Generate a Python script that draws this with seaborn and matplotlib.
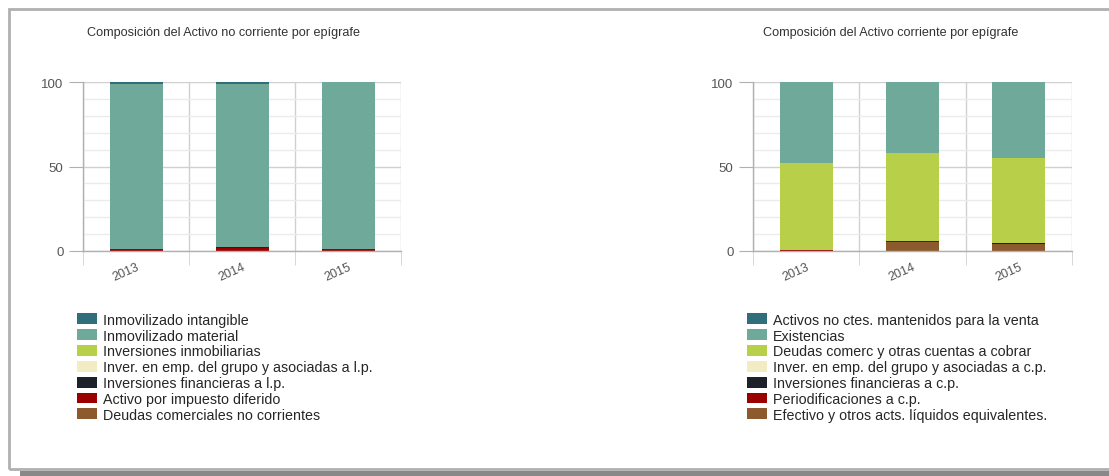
import matplotlib
matplotlib.use("Agg")
import matplotlib.pyplot as plt
import matplotlib.patches as mpatches
from matplotlib.ticker import FixedLocator
import seaborn as sns
import pandas as pd

years = ["2013", "2014", "2015"]

# Non-current assets (% composition), legend order (top of stack first)
nc_labels = ["Inmovilizado intangible", "Inmovilizado material", "Inversiones inmobiliarias",
             "Inver. en emp. del grupo y asociadas a l.p.", "Inversiones financieras a l.p.",
             "Activo por impuesto diferido", "Deudas comerciales no corrientes"]
nc_intangible = [1.2, 1.2, 0.0]
nc_material = [97.8, 96.7, 98.7]
nc_inmobiliarias = [0.0, 0.0, 0.0]
nc_grupo = [0.0, 0.0, 0.0]
nc_financieras = [0.0, 0.5, 0.0]
nc_impuesto = [1.0, 1.6, 1.3]
nc_deudas = [0.0, 0.0, 0.0]

# Current assets (% composition)
c_labels = ["Activos no ctes. mantenidos para la venta", "Existencias",
            "Deudas comerc y otras cuentas a cobrar", "Inver. en emp. del grupo y asociadas a c.p.",
            "Inversiones financieras a c.p.", "Periodificaciones a c.p.",
            "Efectivo y otros acts. líquidos equivalentes."]
c_venta = [0.0, 0.0, 0.0]
c_existencias = [47.8, 42.2, 45.2]
c_deudas = [51.4, 51.8, 49.9]
c_grupo = [0.0, 0.0, 0.0]
c_financieras = [0.0, 0.0, 0.6]
c_periodif = [0.8, 0.7, 0.0]
c_efectivo = [0.0, 5.3, 4.3]

colors = ["#2f6e7a", "#6fa99a", "#b8cf4a", "#f3ecc2", "#1e2129", "#9b0000", "#8c5a2c"]

sns.set_style("white")
plt.rcParams["font.family"] = ["Liberation Sans", "DejaVu Sans"]

fig = plt.figure(figsize=(11.09, 4.77), dpi=100)

def draw(ax, labels, series, title, title_x):
    # stacked bars: draw cumulative totals from top layer down
    n = len(series)
    handles = []
    for i in range(n):
        cum = [sum(s[j] for s in series[i:]) for j in range(len(years))]
        df = pd.DataFrame({"year": years, "value": cum})
        sns.barplot(data=df, x="year", y="value", color=colors[i], saturation=1,
                    width=0.5, linewidth=0, edgecolor="none", ax=ax, errorbar=None)
        handles.append(mpatches.Patch(facecolor=colors[i], edgecolor="none", label=labels[i]))
    ax.set_xlim(-0.5, 2.5)
    ax.set_ylim(0, 100)
    ax.set_xlabel("")
    ax.set_ylabel("")
    ax.set_yticks([0, 50, 100])
    ax.yaxis.set_minor_locator(FixedLocator(range(0, 101, 10)))
    ax.xaxis.set_minor_locator(FixedLocator([-0.5, 0.5, 1.5, 2.5]))
    ax.grid(False)
    ax.grid(which="minor", axis="y", color="#ebebeb", linewidth=1)
    ax.grid(which="major", axis="y", color="#d0d0d0", linewidth=1)
    ax.grid(which="minor", axis="x", color="#d0d0d0", linewidth=1)
    ax.set_axisbelow(True)
    for side in ["top", "right"]:
        ax.spines[side].set_visible(False)
    for side in ["left", "bottom"]:
        ax.spines[side].set_color("#b0b0b0")
        ax.spines[side].set_linewidth(1)
    ax.tick_params(axis="y", which="major", left=True, length=10, color="#b0b0b0",
                   labelsize=9.5, labelcolor="#555555", pad=4)
    ax.tick_params(axis="y", which="minor", left=False)
    ax.tick_params(axis="x", which="major", bottom=False, labelsize=9, labelcolor="#555555", pad=3)
    ax.tick_params(axis="x", which="minor", bottom=True, length=10, color="#d0d0d0")
    for lab in ax.get_xticklabels():
        lab.set_rotation(24)
        lab.set_ha("right")
        lab.set_rotation_mode("anchor")
    ax.legend(handles=handles, loc="upper left", bbox_to_anchor=(-0.02, -0.365),
              frameon=False, fontsize=10.3, handlelength=1.45, handleheight=0.8,
              handletextpad=0.4, labelspacing=0.13, borderaxespad=0, borderpad=0)
    fig.text(title_x / 1109, 1 - 33 / 477, title, fontsize=9.1, color="#333333",
             ha="left", va="center")

ax1 = fig.add_axes([83 / 1109, 225 / 477, 318 / 1109, 169 / 477])
ax2 = fig.add_axes([753 / 1109, 225 / 477, 319 / 1109, 169 / 477])

draw(ax1, nc_labels, [nc_intangible, nc_material, nc_inmobiliarias, nc_grupo,
                      nc_financieras, nc_impuesto, nc_deudas],
     "Composición del Activo no corriente por epígrafe", 87)
draw(ax2, c_labels, [c_venta, c_existencias, c_deudas, c_grupo,
                     c_financieras, c_periodif, c_efectivo],
     "Composición del Activo corriente por epígrafe", 763)

# page frame and shadow
fig.patches.append(mpatches.Rectangle((20 / 1109, 0), 1.1, 5 / 477, transform=fig.transFigure,
                                      facecolor="#888888", edgecolor="none", zorder=0))
fig.patches.append(mpatches.Rectangle((9 / 1109, 7 / 477), 1.1, 460 / 477, transform=fig.transFigure,
                                      facecolor="none", edgecolor="#b0b0b0", linewidth=2, zorder=1))

fig.savefig("out.png", dpi=100)
